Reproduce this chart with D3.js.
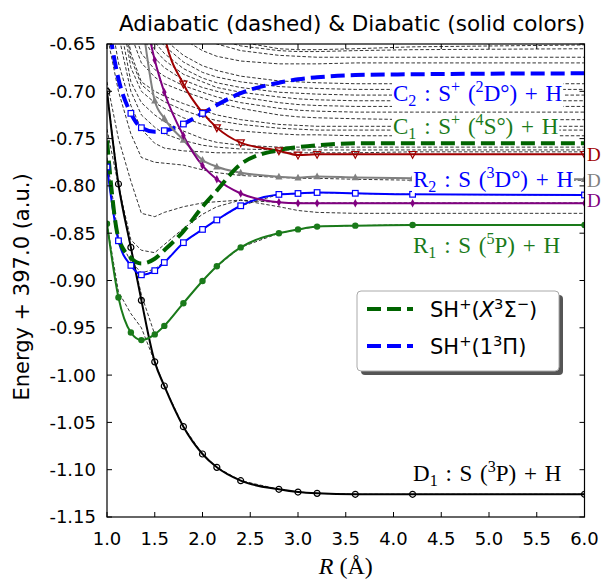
<!DOCTYPE html>
<meta charset="utf-8">
<script src="https://d3js.org/d3.v7.min.js"></script>
<style>
  body { margin: 0; background: #fff; }
  text { white-space: pre; }
</style>
<div id="chart"></div>
<script>
// radial grid (Angstrom)
var R = [1.0, 1.12, 1.25, 1.36, 1.5, 1.6, 1.8, 2.0, 2.15, 2.4, 2.8, 3.0, 3.2, 3.6, 4.2, 6.0];

// diabatic curves (solid, with markers)
var D1 = [-0.700, -0.798, -0.865, -0.921, -0.986, -1.0115, -1.0545, -1.0834, -1.0975, -1.1116, -1.1207, -1.1236, -1.125, -1.126, -1.126, -1.126];
var R1 = [-0.840, -0.918, -0.955, -0.963, -0.957, -0.948, -0.924, -0.9005, -0.885, -0.865, -0.850, -0.846, -0.843, -0.842, -0.8413, -0.8413];
var R2 = [-0.780, -0.858, -0.884, -0.894, -0.8896, -0.881, -0.860, -0.846, -0.836, -0.821, -0.809, -0.808, -0.807, -0.8078, -0.8089, -0.8096];
var Dp = [-0.40, -0.47, -0.54, -0.60, -0.667, -0.701, -0.747, -0.7786, -0.793, -0.808, -0.8173, -0.8184, -0.8184, -0.8184, -0.8184, -0.8184];
var Dg = [-0.40, -0.47, -0.54, -0.62, -0.710, -0.7286, -0.7515, -0.7726, -0.7797, -0.786, -0.7903, -0.7913, -0.790, -0.791, -0.792, -0.793];
var Dr = [-0.35, -0.42, -0.48, -0.53, -0.58, -0.640, -0.6923, -0.7226, -0.7384, -0.7543, -0.7628, -0.7673, -0.7666, -0.7666, -0.7666, -0.7666];

// C2 diabatic points seen on the 1^3Pi curve
var C2R = [1.25, 1.36, 1.6, 1.8, 2.0];
var C2E = [-0.7233, -0.7385, -0.7416, -0.7346, -0.7233];

// adiabatic SH+ states (thick dashed)
var Xsig = [-0.752, -0.855, -0.876, -0.882, -0.877, -0.868, -0.848, -0.822, -0.805, -0.777, -0.762, -0.759, -0.757, -0.755, -0.755, -0.755];
var Pi13 = [-0.620, -0.687, -0.7233, -0.7385, -0.7427, -0.7416, -0.7346, -0.7233, -0.7145, -0.702, -0.6909, -0.6873, -0.6852, -0.6828, -0.682, -0.681];

// adiabatic curves (thin dashed)
var adiab = [
  [-0.840, -0.912, -0.935, -0.950, -0.986, -1.0115, -1.0545, -1.0834, -1.0975, -1.1116, -1.1207, -1.1236, -1.125, -1.126, -1.126, -1.126],
  [-0.700, -0.798, -0.866, -0.915, -0.957, -0.948, -0.924, -0.9005, -0.885, -0.865, -0.850, -0.846, -0.843, -0.842, -0.841, -0.841],
  [-0.770, -0.855, -0.880, -0.892, -0.888, -0.880, -0.860, -0.846, -0.836, -0.821, -0.809, -0.808, -0.807, -0.808, -0.809, -0.8096],
  [-0.740, -0.800, -0.857, -0.868, -0.8706, -0.862, -0.845, -0.830, -0.822, -0.815, -0.8175, -0.818, -0.818, -0.818, -0.818, -0.818],
  [-0.690, -0.750, -0.795, -0.829, -0.8325, -0.828, -0.822, -0.818, -0.8167, -0.815, -0.822, -0.826, -0.828, -0.829, -0.829, -0.829],
  [-0.640, -0.700, -0.745, -0.770, -0.775, -0.776, -0.778, -0.783, -0.786, -0.789, -0.791, -0.792, -0.792, -0.793, -0.794, -0.794],
  [-0.600, -0.670, -0.715, -0.740, -0.755, -0.760, -0.763, -0.764, -0.765, -0.765, -0.765, -0.765, -0.765, -0.765, -0.764, -0.764],
  [-0.560, -0.640, -0.700, -0.725, -0.738, -0.745, -0.752, -0.757, -0.759, -0.761, -0.762, -0.762, -0.762, -0.762, -0.762, -0.762],
  [-0.520, -0.620, -0.690, -0.712, -0.725, -0.732, -0.742, -0.750, -0.754, -0.757, -0.759, -0.759, -0.759, -0.759, -0.759, -0.759],
  [-0.500, -0.600, -0.675, -0.700, -0.712, -0.718, -0.728, -0.735, -0.739, -0.742, -0.745, -0.746, -0.746, -0.747, -0.747, -0.747],
  [-0.490, -0.590, -0.665, -0.693, -0.705, -0.711, -0.720, -0.727, -0.731, -0.735, -0.739, -0.740, -0.741, -0.741, -0.741, -0.741],
  [-0.480, -0.580, -0.660, -0.690, -0.700, -0.705, -0.713, -0.720, -0.725, -0.730, -0.735, -0.736, -0.737, -0.737, -0.737, -0.737],
  [-0.450, -0.560, -0.640, -0.670, -0.685, -0.692, -0.700, -0.707, -0.712, -0.718, -0.725, -0.727, -0.728, -0.729, -0.730, -0.730],
  [-0.440, -0.545, -0.625, -0.660, -0.677, -0.684, -0.694, -0.701, -0.706, -0.712, -0.718, -0.720, -0.721, -0.722, -0.722, -0.722],
  [-0.420, -0.520, -0.600, -0.640, -0.665, -0.675, -0.688, -0.696, -0.700, -0.706, -0.712, -0.714, -0.715, -0.716, -0.716, -0.716],
  [-0.410, -0.510, -0.590, -0.630, -0.656, -0.667, -0.682, -0.690, -0.696, -0.701, -0.706, -0.708, -0.709, -0.710, -0.710, -0.710],
  [-0.400, -0.500, -0.580, -0.620, -0.648, -0.660, -0.676, -0.686, -0.691, -0.696, -0.701, -0.702, -0.703, -0.704, -0.704, -0.704],
  [-0.390, -0.485, -0.565, -0.610, -0.640, -0.652, -0.669, -0.680, -0.685, -0.690, -0.695, -0.696, -0.697, -0.698, -0.698, -0.698],
  [-0.380, -0.470, -0.550, -0.600, -0.630, -0.645, -0.662, -0.673, -0.678, -0.684, -0.689, -0.690, -0.691, -0.692, -0.692, -0.692],
  [-0.350, -0.440, -0.520, -0.570, -0.610, -0.625, -0.645, -0.657, -0.663, -0.668, -0.671, -0.671, -0.671, -0.670, -0.670, -0.670],
  [-0.330, -0.420, -0.500, -0.550, -0.590, -0.605, -0.628, -0.642, -0.650, -0.657, -0.662, -0.663, -0.664, -0.664, -0.664, -0.664],
  [-0.320, -0.410, -0.490, -0.540, -0.580, -0.597, -0.620, -0.636, -0.645, -0.652, -0.657, -0.658, -0.658, -0.657, -0.656, -0.655],
  [-0.300, -0.400, -0.480, -0.530, -0.570, -0.590, -0.615, -0.630, -0.640, -0.648, -0.655, -0.656, -0.656, -0.655, -0.653, -0.651]
];

var xTicks = [1.0, 1.5, 2.0, 2.5, 3.0, 3.5, 4.0, 4.5, 5.0, 5.5, 6.0];
var yTicks = [-0.65, -0.70, -0.75, -0.80, -0.85, -0.90, -0.95, -1.00, -1.05, -1.10, -1.15];

var W = 601, H = 580;
var margin = {top: 44, right: 16.5, bottom: 63, left: 107},
    width = W - margin.left - margin.right,
    height = H - margin.top - margin.bottom;

var svg = d3.select("#chart").append("svg")
    .attr("width", W).attr("height", H);
var g = svg.append("g")
    .attr("transform", "translate(" + margin.left + "," + margin.top + ")");

var x = d3.scaleLinear().domain([1, 6]).range([0, width]);
var y = d3.scaleLinear().domain([-1.15, -0.65]).range([height, 0]);

g.append("clipPath").attr("id", "clip")
  .append("rect").attr("width", width).attr("height", height);
var plot = g.append("g").attr("clip-path", "url(#clip)");

var sans = "'DejaVu Sans', sans-serif";
var serif = "'Liberation Serif', 'DejaVu Serif', serif";

function pts(arr) { return R.map(function(r, i) { return [r, arr[i]]; }); }

var linLine = d3.line().x(d => x(d[0])).y(d => y(d[1]));
var smooth = d3.line().x(d => x(d[0])).y(d => y(d[1])).curve(d3.curveMonotoneX);

// thin dashed adiabatic curves
adiab.forEach(function(a) {
  plot.append("path").attr("d", linLine(pts(a)))
    .attr("fill", "none").attr("stroke", "#000")
    .attr("stroke-width", 0.8).attr("stroke-dasharray", "3.5,2");
});

// diabatic curves
var diab = [
  {v: pts(D1), c: "#000000", m: "circle-open"},
  {v: pts(R1), c: "#1a7a1a", m: "circle"},
  {v: pts(R2), c: "#0000ff", m: "square"},
  {v: pts(Dg), c: "#808080", m: "tri-up"},
  {v: pts(Dp), c: "#800080", m: "diamond"},
  {v: pts(Dr), c: "#a00000", m: "tri-down"}
];

// thick dashed 1^3Pi
plot.append("path").attr("d", smooth(pts(Pi13)))
  .attr("fill", "none").attr("stroke", "#0000ff")
  .attr("stroke-width", 4).attr("stroke-dasharray", "14,6");

diab.forEach(function(s) {
  plot.append("path").attr("d", smooth(s.v))
    .attr("fill", "none").attr("stroke", s.c).attr("stroke-width", 2);
});

// thick dashed X^3Sigma-
plot.append("path").attr("d", smooth(pts(Xsig)))
  .attr("fill", "none").attr("stroke", "#006400")
  .attr("stroke-width", 4).attr("stroke-dasharray", "14,6");

var c2pts = C2R.map(function(r, i) { return [r, C2E[i]]; });
diab.concat([{v: c2pts, c: "#0000ff", m: "square"}]).forEach(function(s) {
  var mk = plot.selectAll(null).data(s.v).enter().append("g")
    .attr("transform", d => "translate(" + x(d[0]) + "," + y(d[1]) + ")");
  if (s.m === "circle-open") {
    mk.append("circle").attr("r", 3).attr("fill", "none").attr("stroke", s.c).attr("stroke-width", 1.2);
  } else if (s.m === "circle") {
    mk.append("circle").attr("r", 3.2).attr("fill", s.c);
  } else if (s.m === "square") {
    mk.append("rect").attr("x", -2.8).attr("y", -2.8).attr("width", 5.6).attr("height", 5.6)
      .attr("fill", "#fff").attr("stroke", s.c).attr("stroke-width", 1.2);
  } else if (s.m === "tri-up") {
    mk.append("path").attr("d", "M0,-4L3.6,2.8L-3.6,2.8Z").attr("fill", s.c);
  } else if (s.m === "tri-down") {
    mk.append("path").attr("d", "M0,4L3.6,-2.8L-3.6,-2.8Z").attr("fill", "none")
      .attr("stroke", s.c).attr("stroke-width", 1.2);
  } else if (s.m === "diamond") {
    mk.append("path").attr("d", "M0,-4.2L2.3,0L0,4.2L-2.3,0Z").attr("fill", s.c);
  }
});

// axes frame and inward ticks
g.append("rect").attr("width", width).attr("height", height)
  .attr("fill", "none").attr("stroke", "#000").attr("stroke-width", 1.2);

var tl = 5;
xTicks.forEach(function(t) {
  g.append("line").attr("x1", x(t)).attr("x2", x(t)).attr("y1", height).attr("y2", height - tl).attr("stroke", "#000");
  g.append("line").attr("x1", x(t)).attr("x2", x(t)).attr("y1", 0).attr("y2", tl).attr("stroke", "#000");
  g.append("text").attr("x", x(t)).attr("y", height + 28)
    .attr("text-anchor", "middle").attr("font-family", sans).attr("font-size", "18px")
    .text(t.toFixed(1));
});
yTicks.forEach(function(t) {
  g.append("line").attr("x1", 0).attr("x2", tl).attr("y1", y(t)).attr("y2", y(t)).attr("stroke", "#000");
  g.append("line").attr("x1", width).attr("x2", width - tl).attr("y1", y(t)).attr("y2", y(t)).attr("stroke", "#000");
  g.append("text").attr("x", -11).attr("y", y(t)).attr("dy", "0.36em")
    .attr("text-anchor", "end").attr("font-family", sans).attr("font-size", "18px")
    .text(t.toFixed(2));
});

// rich text helper: parts = [[string, "n"|"sup"|"sub"|"it"]]
function rich(sel, parts, fs, fam) {
  var t = sel.append("text").attr("font-size", fs + "px").attr("font-family", fam);
  var cur = 0;
  parts.forEach(function(p) {
    var target = p[1] === "sup" ? -0.38 * fs : p[1] === "sub" ? 0.22 * fs : 0;
    var ts = t.append("tspan").attr("dy", target - cur).text(p[0]);
    if (p[1] === "sup" || p[1] === "sub") ts.attr("font-size", (fs * 0.7) + "px");
    if (p[1] === "it") ts.attr("font-style", "italic");
    cur = target;
  });
  return t;
}

// title and axis labels
svg.append("text").attr("x", 352).attr("y", 31)
  .attr("text-anchor", "middle").attr("font-family", sans).attr("font-size", "21.5px")
  .text("Adiabatic (dashed) & Diabatic (solid colors)");

svg.append("text").attr("transform", "translate(29,287) rotate(-90)")
  .attr("text-anchor", "middle").attr("font-family", sans).attr("font-size", "21px")
  .text("Energy + 397.0 (a.u.)");

var xl = rich(svg, [["R", "it"], [" (Å)", "n"]], 24, serif);
xl.attr("x", margin.left + width / 2).attr("y", 574).attr("text-anchor", "middle");

// state labels with white boxes
var labels = [
  {x: 393, y: 101, fs: 23, c: "#0000ff", p: [["C", "n"], ["2", "sub"], [" : S", "n"], ["+", "sup"], [" (", "n"], ["2", "sup"], ["D°) + H", "n"]]},
  {x: 393, y: 134, fs: 23, c: "#1a7a1a", p: [["C", "n"], ["1", "sub"], [" : S", "n"], ["+", "sup"], [" (", "n"], ["4", "sup"], ["S°) + H", "n"]]},
  {x: 413, y: 187, fs: 23, c: "#0000ff", p: [["R", "n"], ["2", "sub"], [" : S (", "n"], ["3", "sup"], ["D°) + H", "n"]]},
  {x: 413, y: 253, fs: 23, c: "#1a7a1a", p: [["R", "n"], ["1", "sub"], [" : S (", "n"], ["5", "sup"], ["P) + H", "n"]]},
  {x: 413, y: 481, fs: 23, c: "#000000", p: [["D", "n"], ["1", "sub"], [" : S (", "n"], ["3", "sup"], ["P) + H", "n"]]},
  {x: 587, y: 161, fs: 19, c: "#a00000", p: [["D", "n"]]},
  {x: 587, y: 187, fs: 19, c: "#808080", p: [["D", "n"]]},
  {x: 587, y: 207, fs: 19, c: "#800080", p: [["D", "n"]]}
];
labels.forEach(function(l) {
  var lg = svg.append("g");
  var t = rich(lg, l.p, l.fs, serif).attr("x", l.x).attr("y", l.y).attr("fill", l.c)
    .attr("word-spacing", "2px");
  var bb = t.node().getBBox();
  lg.insert("rect", "text").attr("x", bb.x - 1).attr("y", bb.y + 2)
    .attr("width", bb.width + 2).attr("height", bb.height - 4).attr("fill", "#fff");
});

// legend
var leg = svg.append("g").attr("transform", "translate(357,291)");
leg.append("rect").attr("x", 4).attr("y", 4).attr("width", 202).attr("height", 80)
  .attr("rx", 4).attr("fill", "#555");
leg.append("rect").attr("width", 202).attr("height", 80).attr("rx", 4)
  .attr("fill", "#fff").attr("stroke", "#aaa").attr("stroke-width", 1);
var legItems = [
  {c: "#006400", p: [["SH", "n"], ["+", "sup"], ["(", "n"], ["X", "it"], ["3", "sup"], ["Σ", "n"], ["−", "sup"], [")", "n"]]},
  {c: "#0000ff", p: [["SH", "n"], ["+", "sup"], ["(1", "n"], ["3", "sup"], ["Π)", "n"]]}
];
legItems.forEach(function(it, i) {
  var yy = 18 + i * 37;
  leg.append("line").attr("x1", 10).attr("x2", 56).attr("y1", yy).attr("y2", yy)
    .attr("stroke", it.c).attr("stroke-width", 4).attr("stroke-dasharray", "14,6");
  rich(leg, it.p, 21, sans).attr("x", 73).attr("y", yy + 8).attr("fill", "#000");
});
</script>
